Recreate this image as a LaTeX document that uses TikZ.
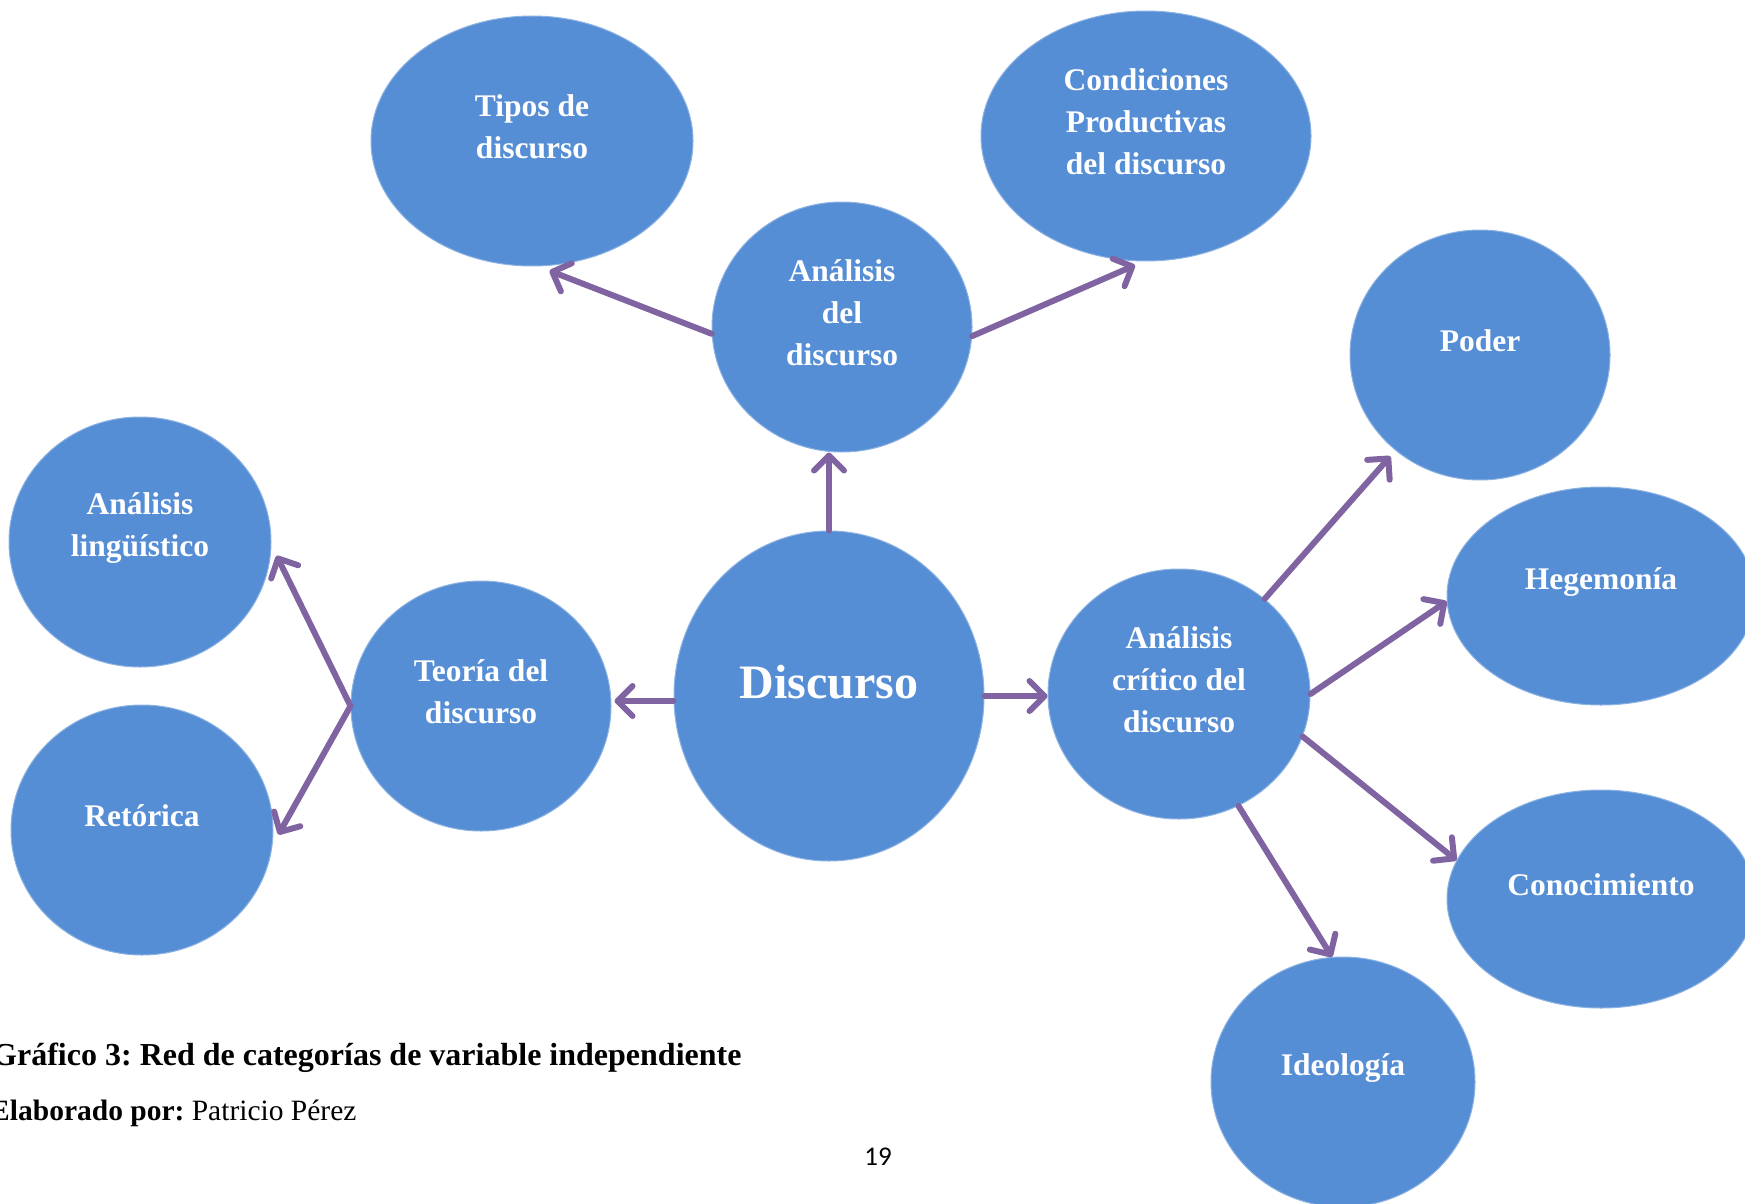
\documentclass[tikz,border=0pt]{standalone}
\usepackage{fontspec}
\setmainfont{Liberation Serif}
\newfontfamily\pagefont{Carlito}
\usetikzlibrary{shapes.geometric}
\usetikzlibrary{arrows.meta}
\frenchspacing

\definecolor{bubblefill}{RGB}{85,142,213}
\definecolor{bubbleedge}{RGB}{140,178,226}
\definecolor{linkcol}{RGB}{128,100,162}

\tikzset{
  bubble/.style={ellipse, fill=bubblefill, draw=bubbleedge, line width=1pt, inner sep=0pt},
  bubbletext/.style={text=white, font=\bfseries\fontsize{31.5}{42}\selectfont, align=center, yshift=14pt},
  link/.style={draw=linkcol, line width=6pt, line cap=round,
    -{Straight Barb[round,length=15pt,width=30pt]}}
}

\begin{document}
\begin{tikzpicture}[x=1pt,y=-1pt]
  \useasboundingbox (0,0) rectangle (1745,1204);

  % Centre
  \node[bubble, minimum width=310pt, minimum height=330pt,
    label={[bubbletext, font=\bfseries\fontsize{48}{56}\selectfont]center:Discurso}] (disc) at (829,696) {};

  % Upper branch
  \node[bubble, minimum width=260pt, minimum height=250pt,
    label={[bubbletext]center:Análisis\\del\\discurso}] (anadel) at (842,327) {};
  \node[bubble, minimum width=322pt, minimum height=250pt,
    label={[bubbletext]center:Tipos de\\discurso}] (tipos) at (532,141) {};
  \node[bubble, minimum width=330pt, minimum height=250pt,
    label={[bubbletext]center:Condiciones\\Productivas\\del discurso}] (cond) at (1146,136) {};

  % Left branch
  \node[bubble, minimum width=260pt, minimum height=250pt,
    label={[bubbletext]center:Teoría del\\discurso}] (teoria) at (481,706) {};
  \node[bubble, minimum width=262pt, minimum height=250pt,
    label={[bubbletext]center:Análisis\\lingüístico}] (ling) at (140,542) {};
  \node[bubble, minimum width=262pt, minimum height=250pt,
    label={[bubbletext]center:Retórica}] (ret) at (142,830) {};

  % Right branch
  \node[bubble, minimum width=262pt, minimum height=250pt,
    label={[bubbletext]center:Análisis\\crítico del\\discurso}] (critico) at (1179,694) {};
  \node[bubble, minimum width=260pt, minimum height=250pt,
    label={[bubbletext]center:Poder}] (poder) at (1480,355) {};
  \node[bubble, minimum width=308pt, minimum height=218pt,
    label={[bubbletext]center:Hegemonía}] (heg) at (1601,596) {};
  \node[bubble, minimum width=308pt, minimum height=218pt,
    label={[bubbletext]center:Conocimiento}] (con) at (1601,899) {};
  \node[bubble, minimum width=264pt, minimum height=250pt,
    label={[bubbletext]center:Ideología}] (ideo) at (1343,1082) {};

  % Arrows
  \draw[link] (anadel.183) -- ([yshift=-5pt]tipos.-82);
  \draw[link] (anadel.-4) -- ([yshift=-4pt]cond.-95);
  \draw[link] (disc.north) -- (disc.north |- anadel.south);
  \draw[link] ([yshift=-5pt]disc.west) -- ([xshift=3pt,yshift=5pt]teoria.east);
  \draw[link] (disc.east) -- (disc.east -| critico.west);
  \draw[link] (teoria.west) -- ([xshift=6pt]ling.-6);
  \draw[link] (teoria.west) -- ([xshift=5pt]ret.-2);
  \draw[link] (critico.48) -- ([xshift=-6pt,yshift=-5pt]poder.-131);
  \draw[link] (critico.east) -- (heg.182);
  \draw[link] (critico.-19) -- (con.165);
  \draw[link] (critico.-62) -- (ideo.95);

  % Caption
  \node[anchor=base east, font=\bfseries\fontsize{32}{38}\selectfont] (cap) at (745,1065)
    {Gráfico 3: Red de categorías de variable independiente};
  \node[anchor=base east, font=\fontsize{29.5}{36}\selectfont] (autor) at (360,1120)
    {\textbf{Elaborado por:} Patricio Pérez};
  \node[font=\pagefont\fontsize{27}{32}\selectfont] (pag) at (878,1157) {19};
\end{tikzpicture}
\end{document}
